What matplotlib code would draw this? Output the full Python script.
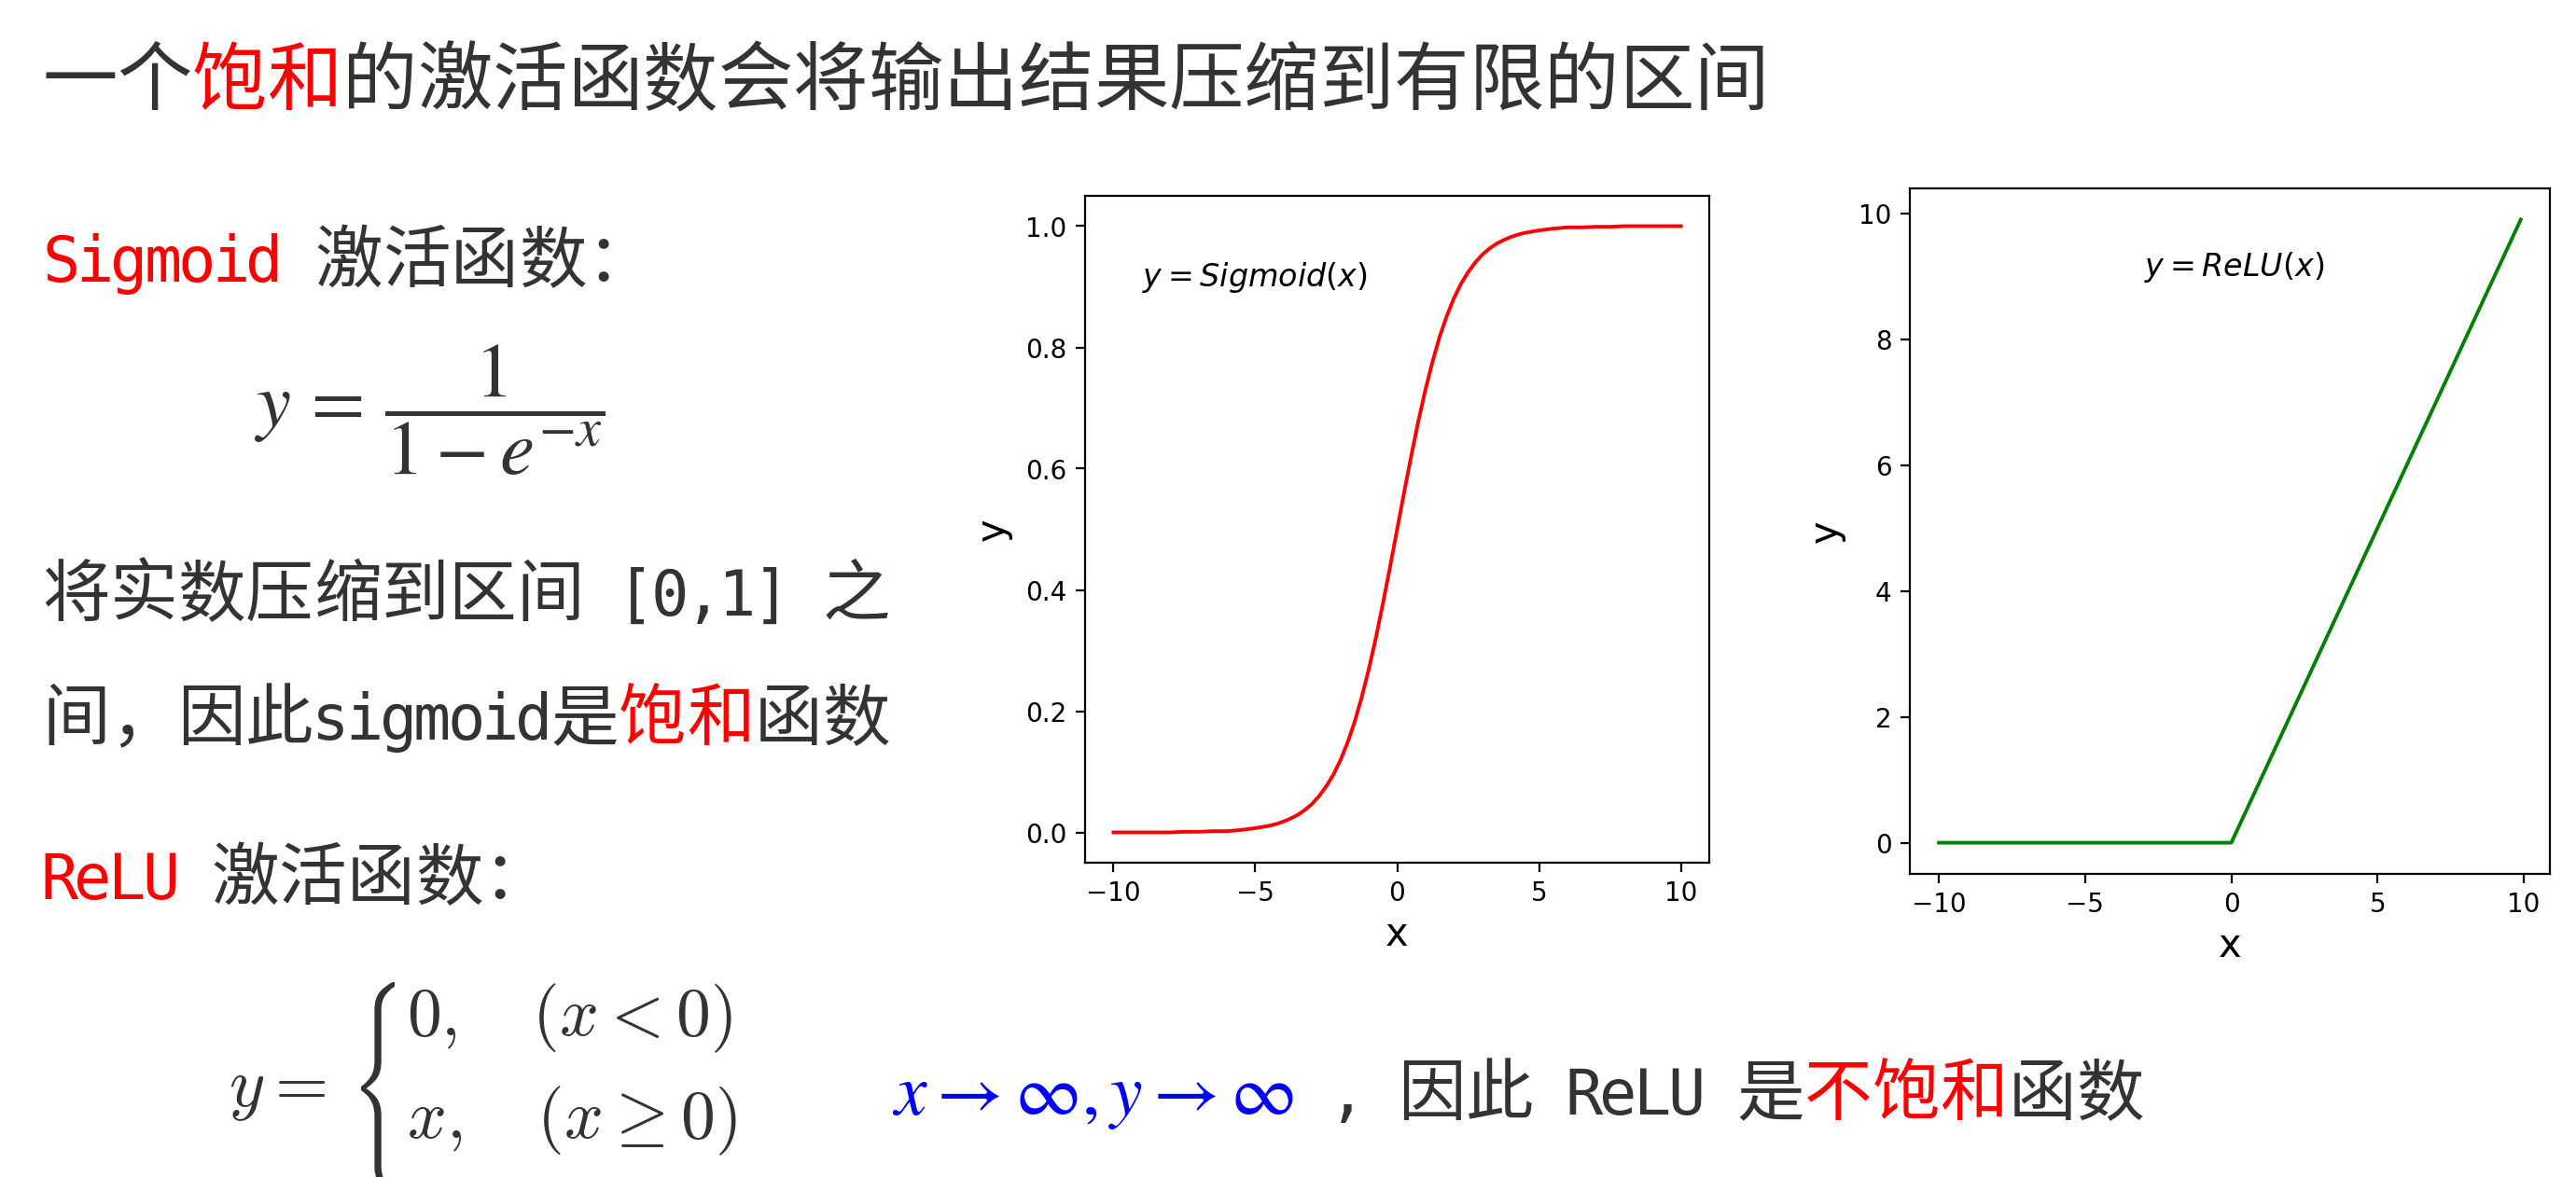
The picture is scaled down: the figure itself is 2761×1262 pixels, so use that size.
import numpy as np
import matplotlib
matplotlib.use("Agg")
import matplotlib.pyplot as plt
from matplotlib.textpath import TextPath
from matplotlib.patches import PathPatch
from matplotlib.font_manager import FontProperties
from matplotlib.transforms import Affine2D

# values
sig_x = [-10, -9.5, -9, -8.5, -8, -7.5, -7, -6.5, -6, -5.5, -5, -4.75, -4.5, -4.25,
         -4, -3.75, -3.5, -3.25, -3, -2.75, -2.5, -2.25, -2, -1.75, -1.5, -1.25,
         -1, -0.75, -0.5, -0.25, 0, 0.25, 0.5, 0.75, 1, 1.25, 1.5, 1.75, 2, 2.25,
         2.5, 2.75, 3, 3.25, 3.5, 3.75, 4, 4.25, 4.5, 4.75, 5, 5.5, 6, 6.5, 7,
         7.5, 8, 8.5, 9, 9.5, 10]
sig_y = [0.000, 0.000, 0.000, 0.000, 0.000, 0.001, 0.001, 0.002, 0.002, 0.004,
         0.007, 0.009, 0.011, 0.014, 0.018, 0.023, 0.029, 0.037, 0.047, 0.060,
         0.076, 0.095, 0.119, 0.148, 0.182, 0.223, 0.269, 0.321, 0.378, 0.438,
         0.500, 0.562, 0.622, 0.679, 0.731, 0.777, 0.818, 0.852, 0.881, 0.905,
         0.924, 0.940, 0.953, 0.963, 0.971, 0.977, 0.982, 0.986, 0.989, 0.991,
         0.993, 0.996, 0.998, 0.998, 0.999, 0.999, 1.000, 1.000, 1.000, 1.000, 1.000]
relu_x = [-10, 0, 9.9]
relu_y = [0, 0, 9.9]

DARK = "#333333"
RED = "#ff0000"
BLUE = "#0000ff"

title_runs = [("一个", DARK), ("饱和", RED), ("的激活函数会将输出结果压缩到有限的区间", DARK)]
sig_head = [("Sigmoid", RED), (" 激活函数：", DARK)]
sig_line1 = [("将实数压缩到区间 [0,1] 之", DARK)]
sig_line2 = [("间，因此sigmoid是", DARK), ("饱和", RED), ("函数", DARK)]
relu_head = [("ReLU", RED), (" 激活函数：", DARK)]
relu_tail = [(" , 因此 ReLU 是", DARK), ("不饱和", RED), ("函数", DARK)]

W, H = 2761, 1262
fig = plt.figure(figsize=(W / 100, H / 100), dpi=100)
fig.patch.set_facecolor("white")


def put_line(x0, base, runs, em):
    # monospace-like layout: CJK full cell, latin half cell
    size = em * 72 / 100
    x = x0
    for text, color in runs:
        for ch in text:
            wide = ord(ch) > 0x2000
            w = em if wide else em / 2
            if ch != " ":
                if ch in "，：":
                    fig.text(x / W, 1 - base / H, ch, ha="left", va="baseline",
                             fontsize=size, color=color, family="Noto Sans CJK SC")
                elif wide:
                    fig.text((x + w / 2) / W, 1 - base / H, ch, ha="center", va="baseline",
                             fontsize=size, color=color, family="Noto Sans CJK SC")
                else:
                    fig.text((x + w / 2) / W, 1 - base / H, ch, ha="center", va="baseline",
                             fontsize=size * 0.92, color=color, family="DejaVu Sans Mono")
            x += w
    return x


EM = 72.7
put_line(45, 112, title_runs, 80.5)
put_line(47, 302, sig_head, EM)
put_line(45, 660, sig_line1, EM)
put_line(45, 793, sig_line2, EM)
put_line(45, 964, relu_head, EM)
put_line(1389, 1195, relu_tail, EM)

# sigmoid formula
fig.text(272 / W, 1 - 440 / H, r"$y\,=\,\dfrac{1}{1-e^{-x}}$", ha="left", va="center",
         fontsize=60, color=DARK, math_fontfamily="stix")

# relu piecewise formula
fig.text(245 / W, 1 - 1167 / H, r"$y=$", ha="left", va="center",
         fontsize=53, color=DARK, math_fontfamily="cm")
fig.text(436 / W, 1 - 1092 / H, r"$0,\quad(x<0)$", ha="left", va="center",
         fontsize=53, color=DARK, math_fontfamily="cm")
fig.text(436 / W, 1 - 1202 / H, r"$x,\quad(x\geq0)$", ha="left", va="center",
         fontsize=53, color=DARK, math_fontfamily="cm")
brace = TextPath((0, 0), r"$\{$", size=100, prop=FontProperties(math_fontfamily="cm"))
bb = brace.get_extents()
tr = (Affine2D().translate(-bb.x0, -bb.y0)
      .scale(36 / bb.width, 228 / bb.height)
      .translate(387, H - 1281))
fig.add_artist(PathPatch(brace, transform=tr, facecolor=DARK, edgecolor="none"))

fig.text(956 / W, 1 - 1195 / H, r"$x\rightarrow\infty, y\rightarrow\infty$", ha="left",
         va="baseline", fontsize=56, color=BLUE, math_fontfamily="stix")


def style(ax):
    ax.tick_params(labelsize=20, length=7, width=1.6, pad=7)
    for s in ax.spines.values():
        s.set_linewidth(1.6)
    ax.set_xlabel("x", fontsize=30, labelpad=6)
    ax.set_ylabel("y", fontsize=30, labelpad=10)


ax1 = fig.add_axes([1163 / W, 1 - 925 / H, (1832 - 1163) / W, (925 - 210) / H])
ax1.plot(sig_x, sig_y, color="r", lw=2.8)
ax1.text(-9, 0.9, r"$y = Sigmoid(x)$", fontsize=24)
style(ax1)

ax2 = fig.add_axes([2047 / W, 1 - 937 / H, (2733 - 2047) / W, (937 - 202) / H])
ax2.plot(relu_x, relu_y, color="g", lw=2.8)
ax2.text(-3, 9, r"$y = ReLU(x)$", fontsize=24)
style(ax2)

fig.savefig("out.png", dpi=100)
